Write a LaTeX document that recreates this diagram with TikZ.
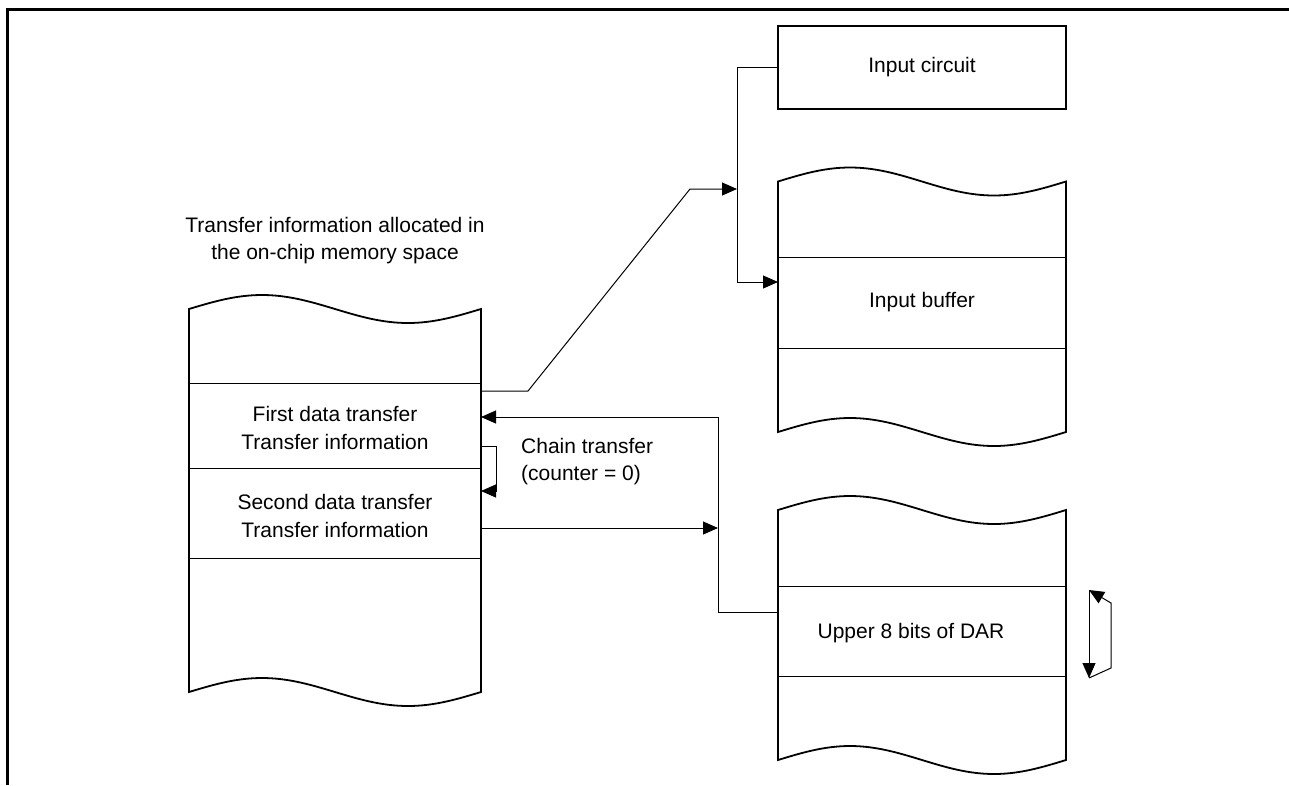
\documentclass[tikz,border=0pt]{standalone}
\usepackage{fontspec}
\setmainfont{Liberation Sans}
\usetikzlibrary{arrows.meta,calc}
\tikzset{
  blk/.style={line width=1.8pt, line join=miter},
  rowline/.style={line width=1pt},
  conn/.style={line width=1pt},
  arr/.style={conn, -{Triangle[length=15pt,width=13pt]}},
  lbl/.style={font=\fontsize{21}{27}\selectfont, align=center, inner sep=0pt},
  row/.style={draw=none, inner sep=0pt, font=\fontsize{21}{28}\selectfont, align=center},
  frame/.style={line width=3.2pt}
}
\newcommand\memblk[4]{% x0, W, ytop, ybot
  \draw[blk] (#1,#3) sin ++(#2/4,-14) cos ++(#2/4,14) sin ++(#2/4,14) cos ++(#2/4,-14)
    -- (#1+#2,#4) sin ++(-#2/4,14) cos ++(-#2/4,-14) sin ++(-#2/4,-14) cos ++(-#2/4,14) -- cycle;}
\begin{document}
\begin{tikzpicture}[x=1pt,y=-1pt]
\useasboundingbox (0,0) rectangle (1289,785);
% frame
\draw[frame] (7.5,785) -- (7.5,9.5) -- (1289,9.5);

% left memory block
\memblk{189}{292}{309}{692}
\draw[rowline] (189,383) -- (481,383);
\draw[rowline] (189,468) -- (481,468);
\draw[rowline] (189,558) -- (481,558);
\node[row, minimum width=292pt, minimum height=85pt] (first) at (335,428) {First data transfer\\Transfer information};
\node[row, minimum width=292pt, minimum height=90pt] (second) at (335,516) {Second data transfer\\Transfer information};
\node[lbl] (title) at (335,241) {Transfer information allocated in\\the on-chip memory space};

% input circuit
\node[draw, line width=1.8pt, minimum width=288pt, minimum height=83pt, font=\fontsize{21}{27}\selectfont] (ic) at (922,67.5) {Input circuit};

% input buffer block
\memblk{778}{288}{181.5}{432}
\draw[rowline] (778,257) -- (1066,257);
\draw[rowline] (778,348) -- (1066,348);
\node[row, minimum width=288pt, minimum height=91pt] (ib) at (922,302.5) {Input buffer};

% DAR block
\memblk{778}{288}{510}{760}
\draw[rowline] (778,586) -- (1066,586);
\draw[rowline] (778,676) -- (1066,676);
\node[row, minimum width=288pt, minimum height=90pt] (dar) at (922,631) {};
\node[row] (dartext) at (911,633) {Upper 8 bits of DAR};

% chain label
\node[lbl, align=left, anchor=west] (chain) at (521,462) {Chain transfer\\(counter = 0)};

% coordinates
\coordinate (jv) at (737,189);
\coordinate (jc) at (718,528);
\coordinate (ibin) at (778,282);
\coordinate (firstout) at (481,391);
\coordinate (firstin) at (481,417);
\coordinate (loopout) at (481,446);
\coordinate (loopin) at (481,491);
\coordinate (secout) at (481,528);
\coordinate (darout) at (778,612);

% connectors
\draw[arr] (ic.west) -| (737,282) -- (ibin);
\draw[arr] (firstout) -- ++(47,0) -- (690,189) -- (jv);
\draw[arr] (loopout) -- ++(15,0) |- (loopin);
\draw[arr] (darout) -| (718,417) -- (firstin);
\draw[arr] (secout) -- (jc);

% DAR increment arrows
\coordinate (dt) at (1089,590);
\coordinate (db) at (1089,678);
\draw[arr] (dt) -- (db);
\draw[arr] (db) -- (1111,668) -- (1111,603) -- (dt);
\end{tikzpicture}
\end{document}
